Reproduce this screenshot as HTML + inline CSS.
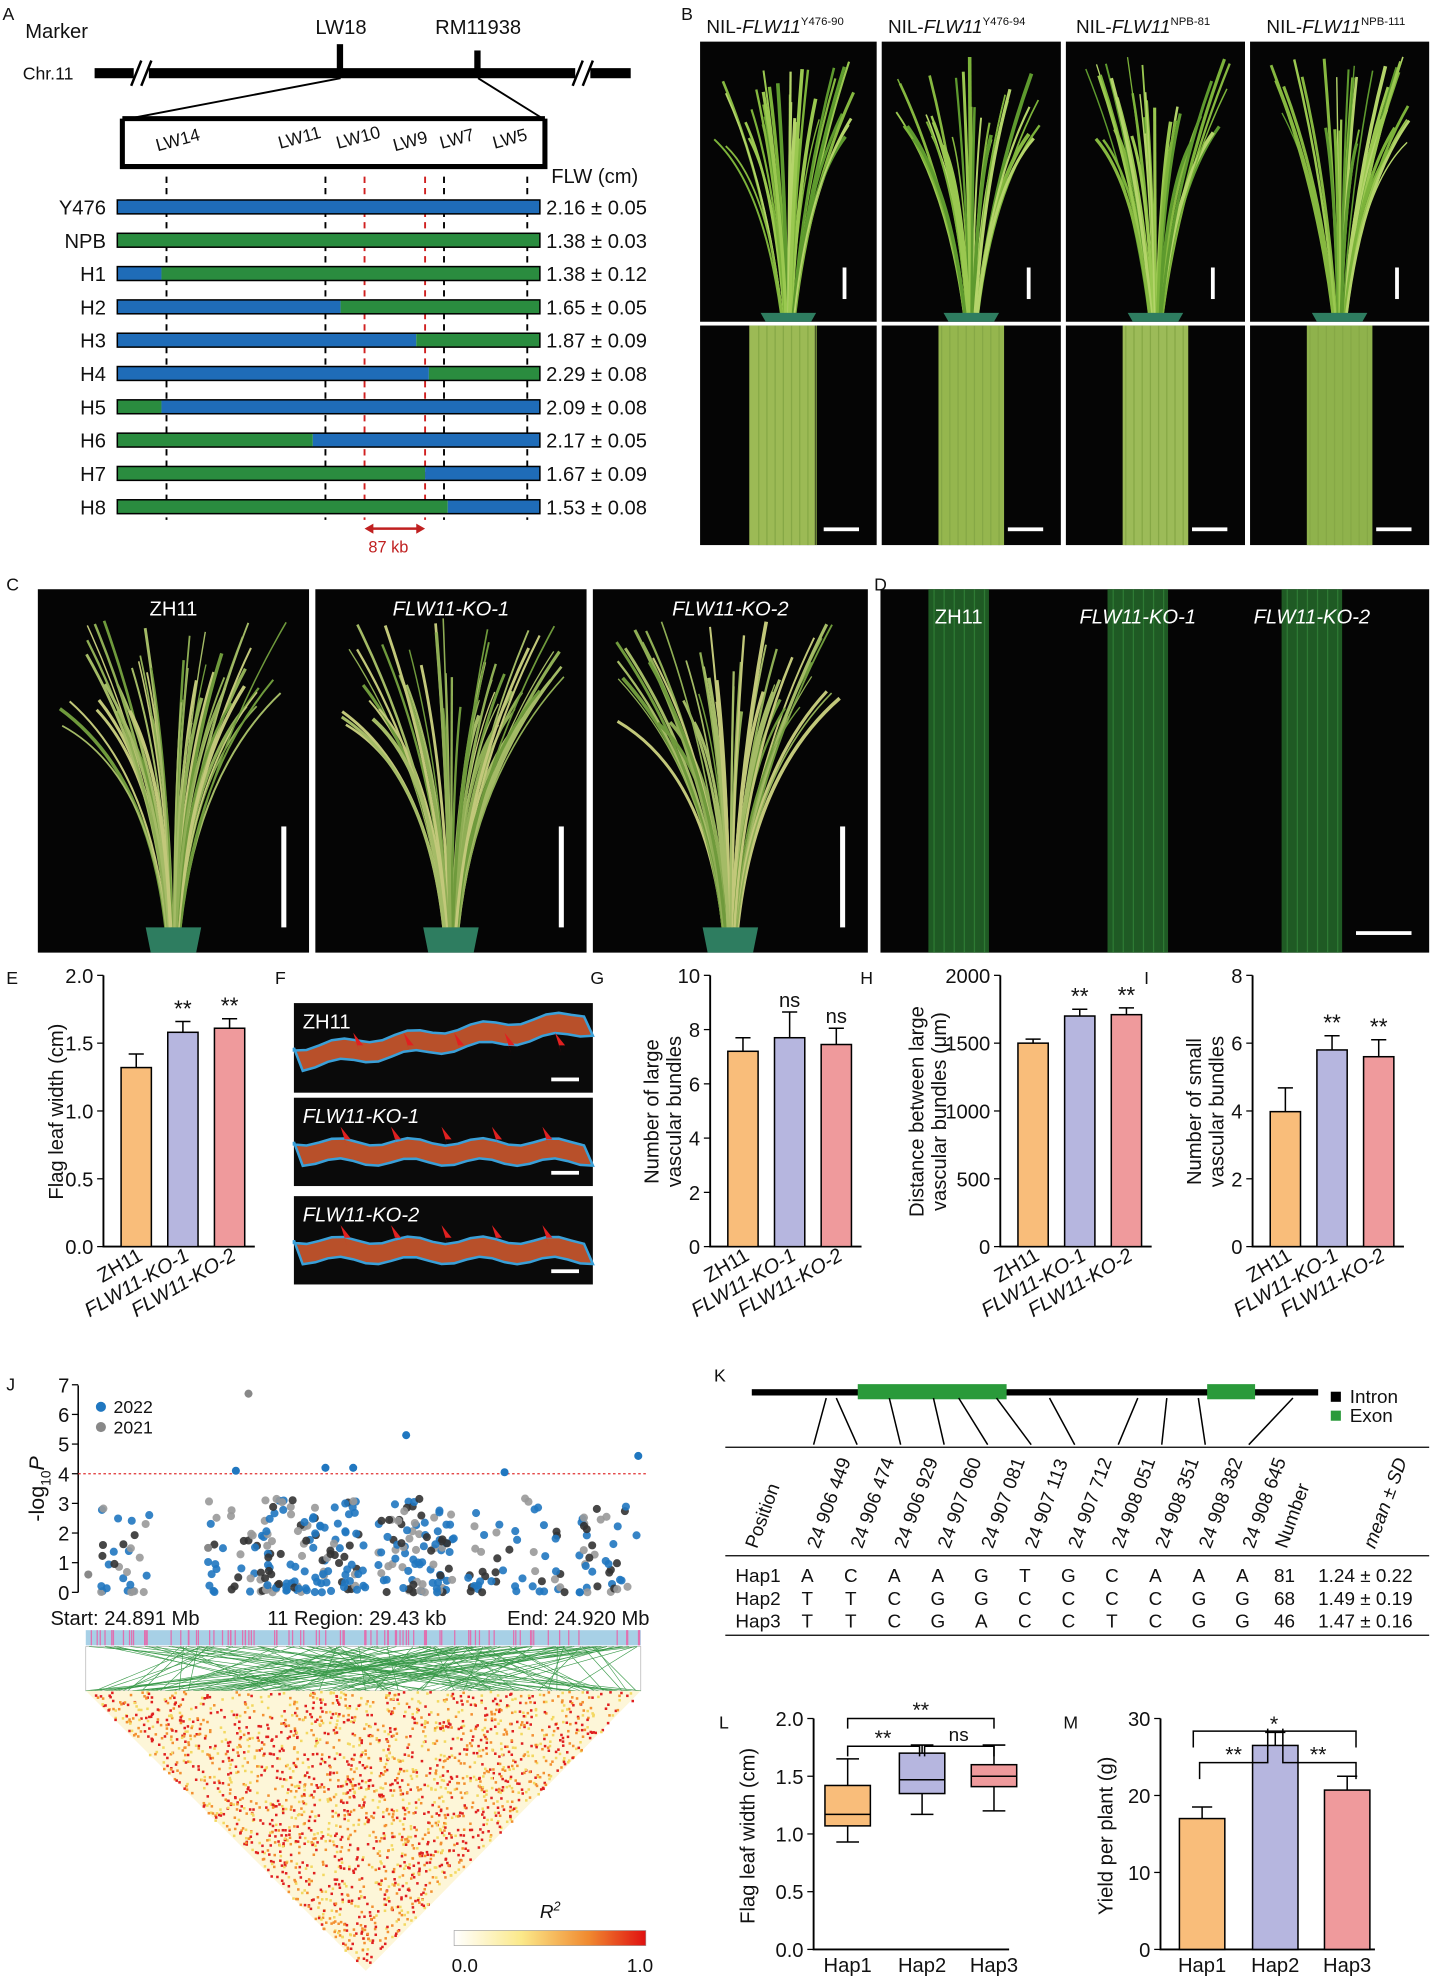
<!DOCTYPE html>
<html><head><meta charset="utf-8"><style>
html,body{margin:0;padding:0;background:#fff}
svg{display:block}
text{font-family:"Liberation Sans",Arial,sans-serif;fill:#111}
</style></head><body>
<svg id="s" width="1438" height="1986" viewBox="0 0 1140 1574" preserveAspectRatio="none" xmlns="http://www.w3.org/2000/svg">
<defs>
<linearGradient id="cb" x1="0" x2="1"><stop offset="0" stop-color="#fff"/><stop offset="0.35" stop-color="#fbe98a"/><stop offset="0.7" stop-color="#f08a30"/><stop offset="1" stop-color="#e01010"/></linearGradient>
</defs>
<text x="2" y="16" font-size="14">A</text>
<text x="20" y="30" font-size="16">Marker</text>
<text x="18" y="63" font-size="14">Chr.11</text>
<rect x="75" y="54" width="425" height="8" fill="#000"/>
<rect x="106" y="48" width="12" height="20" fill="#fff"/><path d="M104 68 L112 48 M112 68 L120 48" stroke="#000" stroke-width="2"/>
<rect x="456" y="48" width="12" height="20" fill="#fff"/><path d="M454 68 L462 48 M462 68 L470 48" stroke="#000" stroke-width="2"/>
<rect x="267" y="35" width="5" height="22" fill="#000"/><text x="250" y="27" font-size="16">LW18</text>
<rect x="376" y="40" width="5" height="17" fill="#000"/><text x="345" y="27" font-size="16">RM11938</text>
<path d="M270 62 L97 95 M379 62 L432 95" stroke="#000" stroke-width="1.5"/>
<path d="M97 94 L432 94 M97 94 L97 132 L432 132 L432 94" stroke="#000" stroke-width="4" fill="none"/>
<g font-size="14">
<text transform="translate(125,120) rotate(-15)">LW14</text>
<text transform="translate(222,118) rotate(-15)">LW11</text>
<text transform="translate(268,118) rotate(-15)">LW10</text>
<text transform="translate(313,120) rotate(-15)">LW9</text>
<text transform="translate(350,118) rotate(-15)">LW7</text>
<text transform="translate(392,118) rotate(-15)">LW5</text>
</g>
<text x="437" y="145" font-size="16">FLW  (cm)</text>
<g stroke-dasharray="5,4" stroke-width="1.5">
<path d="M132 140 V412 M258 140 V412 M352 140 V412 M418 140 V412" stroke="#000"/>
<path d="M289 140 V412 M337 140 V412" stroke="#d02020"/>
</g>
<g id="rows"></g>
<path d="M292 419 L334 419" stroke="#c02020" stroke-width="2"/><path d="M289 419 l7 -4 v8z M337 419 l-7 -4 v8z" fill="#c02020"/>
<text x="292" y="438" font-size="13" style="fill:#c02020">87 kb</text>

<text x="540" y="16" font-size="14">B</text>
<g font-size="15">
<text x="560" y="26">NIL-<tspan font-style="italic">FLW11</tspan><tspan font-size="9" dy="-6">Y476-90</tspan></text>
<text x="704" y="26">NIL-<tspan font-style="italic">FLW11</tspan><tspan font-size="9" dy="-6">Y476-94</tspan></text>
<text x="853" y="26">NIL-<tspan font-style="italic">FLW11</tspan><tspan font-size="9" dy="-6">NPB-81</tspan></text>
<text x="1004" y="26">NIL-<tspan font-style="italic">FLW11</tspan><tspan font-size="9" dy="-6">NPB-111</tspan></text>
</g>
<g id="photoB"></g>

<text x="5" y="468" font-size="14">C</text>
<text x="693" y="468" font-size="14">D</text>
<g id="photoC"></g>

<text x="5" y="780" font-size="14">E</text>
<text x="218" y="780" font-size="14">F</text>
<text x="468" y="780" font-size="14">G</text>
<text x="682" y="780" font-size="14">H</text>
<text x="907" y="780" font-size="14">I</text>
<g id="bars"></g>
<g id="photoF"></g>

<text x="5" y="1102" font-size="14">J</text>
<g id="J"></g>
<text x="40" y="1288" font-size="16">Start: 24.891 Mb</text>
<text x="212" y="1288" font-size="16">11 Region: 29.43 kb</text>
<text x="402" y="1288" font-size="16">End: 24.920 Mb</text>
<rect x="360" y="1530" width="152" height="12" fill="url(#cb)" stroke="#999" stroke-width="0.5"/>
<text x="428" y="1520" font-size="15" font-style="italic">R<tspan font-size="10" dy="-6">2</tspan></text>
<text x="358" y="1563" font-size="15">0.0</text><text x="497" y="1563" font-size="15">1.0</text>

<text x="566" y="1095" font-size="14">K</text>
<g id="K"></g>

<text x="570" y="1370" font-size="14">L</text>
<text x="843" y="1370" font-size="14">M</text>
<g id="LM"></g>
</svg>
<script>
var NS="http://www.w3.org/2000/svg";
function el(p,t,a,txt){var e=document.createElementNS(NS,t);for(var k in a)e.setAttribute(k,a[k]);if(txt!=null)e.textContent=txt;document.getElementById(p).appendChild(e);return e;}
var seed=7;function rnd(){seed=(seed*16807)%2147483647;return seed/2147483647;}
var B="#1f6cb8",G="#2a8c3f";
var rows=[["Y476",[[93,428,B]],"2.16 ± 0.05"],["NPB",[[93,428,G]],"1.38 ± 0.03"],["H1",[[93,128,B],[128,428,G]],"1.38 ± 0.12"],["H2",[[93,270,B],[270,428,G]],"1.65 ± 0.05"],["H3",[[93,330,B],[330,428,G]],"1.87 ± 0.09"],["H4",[[93,340,B],[340,428,G]],"2.29 ± 0.08"],["H5",[[93,128,G],[128,428,B]],"2.09 ± 0.08"],["H6",[[93,248,G],[248,428,B]],"2.17 ± 0.05"],["H7",[[93,337,G],[337,428,B]],"1.67 ± 0.09"],["H8",[[93,355,G],[355,428,B]],"1.53 ± 0.08"]];
rows.forEach(function(r,i){var y=164+i*26.4;el("rows","text",{x:84,y:y+6,"font-size":16,"text-anchor":"end"},r[0]);r[1].forEach(function(s){el("rows","rect",{x:s[0],y:y-5.5,width:s[1]-s[0],height:11,fill:s[2]});});el("rows","rect",{x:93,y:y-5.5,width:335,height:11,fill:"none",stroke:"#000","stroke-width":1.2});el("rows","text",{x:433,y:y+6,"font-size":16},r[2]);});
function plant(g,x0,y0,x1,y1,cx,base,top,col,n,pot){el(g,"rect",{x:x0,y:y0,width:x1-x0,height:y1-y0,fill:"#050505"});
 for(var i=0;i<n;i++){var a=(rnd()-0.5)*2;var h=base-top;var tx=cx+a*(x1-x0)*0.42;var ty=top+rnd()*h*0.35;var mx=cx+a*20;el(g,"path",{d:"M"+(cx+a*6)+" "+base+" Q"+mx+" "+(base-h*0.5)+" "+tx+" "+ty,stroke:col[i%col.length],"stroke-width":1+rnd()*2,fill:"none"});}
 if(pot)el(g,"path",{d:"M"+(cx-22)+" "+(base)+" h44 l-4 "+(y1-base)+" h-36z",fill:"#2e7d60"});}
var cols=["#7cb33a","#9ac850","#5e9a2e","#b4d46a","#86b840"];
var bx=[[555,695],[699,841],[845,987],[991,1133]];
bx.forEach(function(b,i){plant("photoB",b[0],33,b[1],255,(b[0]+b[1])/2,248,45,cols,34,true);
 el("photoB","rect",{x:b[0],y:258,width:b[1]-b[0],height:174,fill:"#050505"});
 var c=(b[0]+b[1])/2;el("photoB","rect",{x:c-26+(i==0?-5:0),y:258,width:52,height:174,fill:["#9cba55","#95b64e","#9cbb58","#8fb24c"][i]});
 for(var k=0;k<8;k++)el("photoB","rect",{x:c-24+k*6.5,y:258,width:1,height:174,fill:"#86a846"});
 el("photoB","rect",{x:b[1]-27,y:212,width:3,height:25,fill:"#fff"});el("photoB","rect",{x:b[1]-42,y:418,width:28,height:3,fill:"#fff"});});
var cx=[[30,245,"ZH11",false],[250,465,"FLW11-KO-1",true],[470,688,"FLW11-KO-2",true]];
cx.forEach(function(b){var c=(b[0]+b[1])/2;plant("photoC",b[0],467,b[1],755,c,735,490,["#8fae55","#a4bb66","#6f9a3c","#c2c87a"],50,true);
 el("photoC","text",{x:c,y:488,"font-size":16,"text-anchor":"middle",style:"fill:#fff","font-style":b[3]?"italic":"normal"},b[2]);
 el("photoC","rect",{x:b[1]-22,y:655,width:4,height:80,fill:"#fff"});});
el("photoC","rect",{x:698,y:467,width:435,height:288,fill:"#050505"});
[[760,"ZH11",false],[902,"FLW11-KO-1",true],[1040,"FLW11-KO-2",true]].forEach(function(d){el("photoC","rect",{x:d[0]-24,y:467,width:48,height:288,fill:"#1f5a24"});for(var k=0;k<6;k++)el("photoC","rect",{x:d[0]-20+k*8,y:467,width:1,height:288,fill:"#2e7a34"});el("photoC","text",{x:d[0],y:494,"font-size":16,"text-anchor":"middle",style:"fill:#fff","font-style":d[2]?"italic":"normal"},d[1]);});
el("photoC","rect",{x:1075,y:738,width:44,height:3,fill:"#fff"});
[[795,866,"ZH11",false],[870,940,"FLW11-KO-1",true],[948,1018,"FLW11-KO-2",true]].forEach(function(f,i){el("photoF","rect",{x:233,y:f[0],width:237,height:f[1]-f[0],fill:"#0a0a0a"});
 var mid=(f[0]+f[1])/2+8;var d="M233 "+(mid-8);for(var x=233;x<=470;x+=10)d+=" L"+x+" "+(mid-8-(i==0?(x-233)*0.12:0)+Math.sin(x/9)*3);for(var x=470;x>=233;x-=10)d+=" L"+x+" "+(mid+8-(i==0?(x-233)*0.12:0)+Math.sin(x/9)*3);
 el("photoF","path",{d:d+"z",fill:"#b8502a",stroke:"#3aa0d8","stroke-width":2});
 el("photoF","text",{x:240,y:f[0]+20,"font-size":16,style:"fill:#fff","font-style":f[3]?"italic":"normal"},f[2]);
 el("photoF","rect",{x:437,y:f[1]-12,width:22,height:3,fill:"#fff"});
 for(var k=0;k<5;k++){var ax=280+k*40+(i? -10:0);el("photoF","path",{d:"M"+ax+" "+(mid-20)+" l8 10 l-5 0 l2 6 z",fill:"#e02020"});}});
var OR="#f9bd7a",LV="#b6b6df",PK="#ef9a9c";
function bar(ax,ymax,ticks,vals,errs,stars,lab){var y0=988,yt=773,sc=(y0-yt)/ymax;
 el("bars","path",{d:"M"+ax+" "+yt+" V"+y0+" H"+(ax+120),stroke:"#000","stroke-width":1.5,fill:"none"});
 ticks.forEach(function(t){var y=y0-t*sc;el("bars","path",{d:"M"+(ax-5)+" "+y+" H"+ax,stroke:"#000"});el("bars","text",{x:ax-8,y:y+6,"font-size":16,"text-anchor":"end"},ymax<=2?t.toFixed(1):String(t));});
 var cs=[OR,LV,PK];vals.forEach(function(v,i){var x=ax+14+i*37,h=v*sc,w=24;el("bars","rect",{x:x,y:y0-h,width:w,height:h,fill:cs[i],stroke:"#000","stroke-width":1.2});var e=errs[i]*sc;el("bars","path",{d:"M"+(x+w/2)+" "+(y0-h)+" V"+(y0-h-e)+" M"+(x+6)+" "+(y0-h-e)+" H"+(x+w-6),stroke:"#000","stroke-width":1.2});if(stars[i])el("bars","text",{x:x+w/2,y:y0-h-e-4,"font-size":stars[i]=="ns"?16:18,"text-anchor":"middle"},stars[i]);
 var n=["ZH11","FLW11-KO-1","FLW11-KO-2"][i];el("bars","text",{transform:"translate("+(x+w/2+6)+","+(y0+10)+") rotate(-30)","font-size":16,"text-anchor":"end","font-style":i?"italic":"normal"},n);});
 var t=el("bars","text",{transform:"translate("+(ax-(ymax>100?52:32))+","+(y0-107)+") rotate(-90)","font-size":16,"text-anchor":"middle"});lab.forEach(function(l,j){var s=document.createElementNS(NS,"tspan");s.setAttribute("x",0);s.setAttribute("dy",j?18:(lab.length>1?-9:0));s.textContent=l;t.appendChild(s);});}
bar(82,2,[0,0.5,1,1.5,2],[1.32,1.58,1.61],[0.1,0.08,0.07],["","**","**"],["Flag leaf width (cm)"]);
bar(563,10,[0,2,4,6,8,10],[7.2,7.7,7.45],[0.5,0.95,0.6],["","ns","ns"],["Number of large","vascular bundles"]);
bar(793,2000,[0,500,1000,1500,2000],[1500,1700,1710],[30,50,50],["","**","**"],["Distance between large","vascular bundles (μm)"]);
bar(993,8,[0,2,4,6,8],[3.98,5.8,5.6],[0.7,0.42,0.5],["","**","**"],["Number of small","vascular bundles"]);
var jy0=1262,js=23.5;
el("J","path",{d:"M62 1098 V1262",stroke:"#000","stroke-width":1.2});
for(var t=0;t<=7;t++){var y=jy0-t*js;el("J","path",{d:"M57 "+y+" H62",stroke:"#000"});el("J","text",{x:55,y:y+6,"font-size":16,"text-anchor":"end"},t);}
el("J","path",{d:"M62 1168 H512",stroke:"#e03030","stroke-dasharray":"2,2"});
var t=el("J","text",{transform:"translate(35,1180) rotate(-90)","font-size":17,"text-anchor":"middle"},"-log");
var ts=document.createElementNS(NS,"tspan");ts.setAttribute("font-size",11);ts.setAttribute("dy",5);ts.textContent="10";t.appendChild(ts);var ts2=document.createElementNS(NS,"tspan");ts2.setAttribute("dy",-5);ts2.setAttribute("font-style","italic");ts2.textContent="P";t.appendChild(ts2);
el("J","circle",{cx:80,cy:1115,r:4,fill:"#2077c0"});el("J","text",{x:90,y:1120,"font-size":14},"2022");
el("J","circle",{cx:80,cy:1131,r:4,fill:"#888"});el("J","text",{x:90,y:1136,"font-size":14},"2021");
var clusters=[[100,20,30],[190,25,40],[250,40,120],[330,30,100],[410,40,50],[480,25,40]];
clusters.forEach(function(c){for(var i=0;i<c[2];i++){var x=c[0]+(rnd()-0.5)*2*c[1];var v=Math.pow(rnd(),1.8)*3.3;var col=rnd()<0.5?"#2077c0":(rnd()<0.5?"#333":"#999");el("J","circle",{cx:x,cy:jy0-v*js,r:3.2,fill:col,opacity:0.9});}});
[[197,6.7,"#888"],[322,5.3,"#2077c0"],[187,4.1,"#2077c0"],[258,4.2,"#2077c0"],[280,4.2,"#2077c0"],[400,4.05,"#2077c0"],[506,4.6,"#2077c0"],[70,0.6,"#888"],[165,1.5,"#888"]].forEach(function(p){el("J","circle",{cx:p[0],cy:jy0-p[1]*js,r:3.2,fill:p[2]});});
el("J","rect",{x:68,y:1292,width:440,height:12,fill:"#a7d0e6"});
for(var i=0;i<90;i++){var x=68+rnd()*440;el("J","rect",{x:x,y:1292,width:1,height:12,fill:"#e070b0"});}
el("J","path",{d:"M68 1305 H508 V1340 H68z",fill:"none",stroke:"#aaa","stroke-width":0.5});
for(var i=0;i<120;i++){var x=68+rnd()*440;var x2=68+i/119*440;el("J","path",{d:"M"+x+" 1305 L"+x2+" 1340",stroke:"#3a9a4a","stroke-width":0.5});}
el("J","path",{d:"M68 1340 L508 1340 L290 1562z",fill:"#fdf6d8"});
for(var i=0;i<2200;i++){var u=rnd(),v=rnd();if(u+v>1){u=1-u;v=1-v;}var y=1340+v*222;var x=68+u*440+v*222;if(x>508-(y-1340)||x<68+(y-1340))continue;var r=rnd();var c=r<0.4?"#e02020":(r<0.7?"#f39030":"#f3d860");el("J","rect",{x:x,y:y,width:2,height:2,fill:c});}
el("K","rect",{x:596,y:1101,width:449,height:5,fill:"#000"});
el("K","rect",{x:680,y:1097,width:118,height:12,fill:"#2a9a3a"});el("K","rect",{x:957,y:1097,width:38,height:12,fill:"#2a9a3a"});
el("K","rect",{x:1055,y:1103,width:8,height:8,fill:"#000"});el("K","text",{x:1070,y:1112,"font-size":15},"Intron");
el("K","rect",{x:1055,y:1118,width:8,height:8,fill:"#2a9a3a"});el("K","text",{x:1070,y:1127,"font-size":15},"Exon");
var pos=["24 906 449","24 906 474","24 906 929","24 907 060","24 907 081","24 907 113","24 907 712","24 908 051","24 908 351","24 908 382","24 908 645"];
var src=[655,663,705,740,760,790,832,902,925,950,1025];
pos.forEach(function(p,i){var x=645+i*34.5;el("K","path",{d:"M"+src[i]+" 1108 L"+x+" 1145",stroke:"#000","stroke-width":1.2});el("K","text",{transform:"translate("+(x+4)+",1228) rotate(-70)","font-size":15},p);});
el("K","path",{d:"M575 1147 H1133 M575 1233 H1133 M575 1296 H1133",stroke:"#000","stroke-width":1});
el("K","text",{transform:"translate(600,1228) rotate(-70)","font-size":15},"Position");
el("K","text",{transform:"translate(1020,1228) rotate(-70)","font-size":15},"Number");
el("K","text",{transform:"translate(1090,1228) rotate(-70)","font-size":15,"font-style":"italic"},"mean ± SD");
var haps=[["Hap1","ACAAGTGCAAA","81","1.24 ± 0.22"],["Hap2","TTCGGCCCCGG","68","1.49 ± 0.19"],["Hap3","TTCGACCTCGG","46","1.47 ± 0.16"]];
haps.forEach(function(h,j){var y=1254+j*18;el("K","text",{x:583,y:y,"font-size":15},h[0]);for(var i=0;i<11;i++)el("K","text",{x:640+i*34.5,y:y,"font-size":15,"text-anchor":"middle"},h[1][i]);el("K","text",{x:1010,y:y,"font-size":15},h[2]);el("K","text",{x:1045,y:y,"font-size":15},h[3]);});
var ly0=1545,ls=(1545-1362)/2;
el("LM","path",{d:"M645 1362 V1545 H800",stroke:"#000","stroke-width":1.5,fill:"none"});
[0,0.5,1,1.5,2].forEach(function(t){var y=ly0-t*ls;el("LM","path",{d:"M640 "+y+" H645",stroke:"#000"});el("LM","text",{x:637,y:y+6,"font-size":16,"text-anchor":"end"},t.toFixed(1));});
el("LM","text",{transform:"translate(598,1455) rotate(-90)","font-size":16,"text-anchor":"middle"},"Flag leaf width (cm)");
var bxs=[[672,0.93,1.07,1.17,1.42,1.65,OR],[731,1.17,1.35,1.47,1.7,1.77,LV],[788,1.2,1.41,1.5,1.6,1.77,PK]];
bxs.forEach(function(b,i){var x=b[0],f=function(v){return ly0-v*ls;};el("LM","path",{d:"M"+x+" "+f(b[1])+" V"+f(b[5])+" M"+(x-9)+" "+f(b[1])+" H"+(x+9)+" M"+(x-9)+" "+f(b[5])+" H"+(x+9),stroke:"#000","stroke-width":1.2});el("LM","rect",{x:x-18,y:f(b[4]),width:36,height:f(b[2])-f(b[4]),fill:b[6],stroke:"#000","stroke-width":1.2});el("LM","path",{d:"M"+(x-18)+" "+f(b[3])+" H"+(x+18),stroke:"#000","stroke-width":1.2});el("LM","text",{x:x,y:1563,"font-size":16,"text-anchor":"middle"},"Hap"+(i+1));});
el("LM","path",{d:"M672 1370 V1362 H788 V1370 M672 1392 V1384 H729 V1392 M733 1392 V1384 H788 V1392",stroke:"#000","stroke-width":1.2,fill:"none"});
el("LM","text",{x:730,y:1361,"font-size":17,"text-anchor":"middle"},"**");el("LM","text",{x:700,y:1383,"font-size":17,"text-anchor":"middle"},"**");el("LM","text",{x:760,y:1380,"font-size":15,"text-anchor":"middle"},"ns");
var my0=1545,ms=(1545-1362)/30;
el("LM","path",{d:"M920 1362 V1545 H1090",stroke:"#000","stroke-width":1.5,fill:"none"});
[0,10,20,30].forEach(function(t){var y=my0-t*ms;el("LM","path",{d:"M915 "+y+" H920",stroke:"#000"});el("LM","text",{x:912,y:y+6,"font-size":16,"text-anchor":"end"},t);});
el("LM","text",{transform:"translate(882,1455) rotate(-90)","font-size":16,"text-anchor":"middle"},"Yield per plant (g)");
[[953,17,1.5,OR],[1011,26.5,1.7,LV],[1068,20.7,1.8,PK]].forEach(function(b,i){var h=b[1]*ms,e=b[2]*ms;el("LM","rect",{x:b[0]-18,y:my0-h,width:36,height:h,fill:b[3],stroke:"#000","stroke-width":1.2});el("LM","path",{d:"M"+b[0]+" "+(my0-h)+" V"+(my0-h-e)+" M"+(b[0]-8)+" "+(my0-h-e)+" H"+(b[0]+8),stroke:"#000","stroke-width":1.2});el("LM","text",{x:b[0],y:1563,"font-size":16,"text-anchor":"middle"},"Hap"+(i+1));});
el("LM","path",{d:"M946 1385 V1372 H1075 V1385 M951 1410 V1397 H1005 V1370 M1017 1370 V1397 H1075 V1410",stroke:"#000","stroke-width":1.2,fill:"none"});
el("LM","text",{x:1010,y:1372,"font-size":17,"text-anchor":"middle"},"*");el("LM","text",{x:978,y:1396,"font-size":17,"text-anchor":"middle"},"**");el("LM","text",{x:1045,y:1396,"font-size":17,"text-anchor":"middle"},"**");
</script>
</body></html>
